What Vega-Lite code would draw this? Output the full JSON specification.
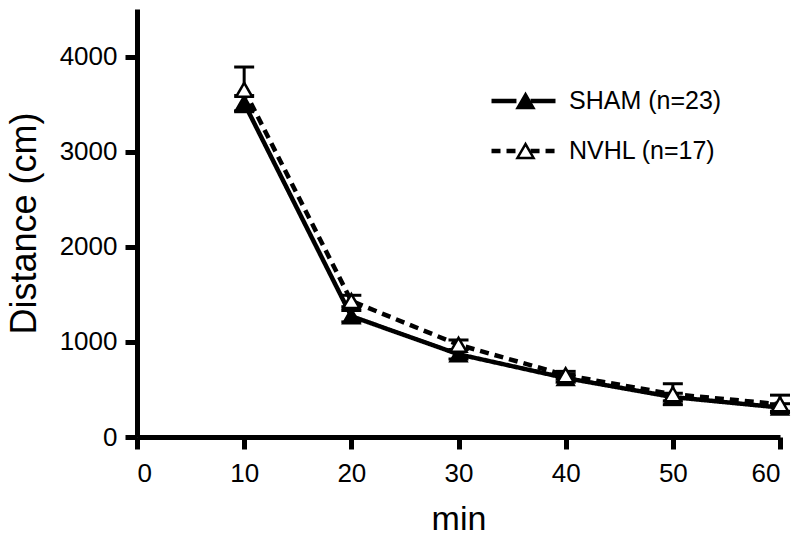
{
  "$schema": "https://vega.github.io/schema/vega-lite/v6.json",
  "width": 643,
  "height": 428,
  "autosize": {"type": "none"},
  "padding": {"left": 137, "top": 9, "right": 20, "bottom": 101},
  "background": "white",
  "config": {
    "view": {"stroke": null},
    "font": "Liberation Sans",
    "axis": {
      "domainColor": "black",
      "domainWidth": 5,
      "tickColor": "black",
      "tickWidth": 5,
      "tickSize": 12,
      "labelFont": "Liberation Sans",
      "labelFontSize": 26,
      "labelColor": "black",
      "titleFont": "Liberation Sans",
      "titleFontWeight": "normal",
      "titleColor": "black",
      "grid": false
    }
  },
  "data": {
    "values": [
      {"min": 10, "group": "SHAM (n=23)", "code": "S", "dist": 3510, "lo": 3430, "hi": 3590},
      {"min": 20, "group": "SHAM (n=23)", "code": "S", "dist": 1270, "lo": 1210, "hi": 1330},
      {"min": 30, "group": "SHAM (n=23)", "code": "S", "dist": 870, "lo": 820, "hi": 920},
      {"min": 40, "group": "SHAM (n=23)", "code": "S", "dist": 620, "lo": 580, "hi": 660},
      {"min": 50, "group": "SHAM (n=23)", "code": "S", "dist": 420, "lo": 380, "hi": 460},
      {"min": 60, "group": "SHAM (n=23)", "code": "S", "dist": 310, "lo": 270, "hi": 350},
      {"min": 10, "group": "NVHL (n=17)", "code": "N", "dist": 3650, "lo": 3420, "hi": 3890},
      {"min": 20, "group": "NVHL (n=17)", "code": "N", "dist": 1430, "lo": 1370, "hi": 1490},
      {"min": 30, "group": "NVHL (n=17)", "code": "N", "dist": 970, "lo": 920, "hi": 1020},
      {"min": 40, "group": "NVHL (n=17)", "code": "N", "dist": 650, "lo": 610, "hi": 690},
      {"min": 50, "group": "NVHL (n=17)", "code": "N", "dist": 450, "lo": 340, "hi": 560},
      {"min": 60, "group": "NVHL (n=17)", "code": "N", "dist": 345, "lo": 255, "hi": 440}
    ]
  },
  "encoding": {
    "x": {
      "field": "min",
      "type": "quantitative",
      "scale": {"domain": [0, 60], "nice": false},
      "axis": {"values": [0, 10, 20, 30, 40, 50, 60], "title": "min", "titleFontSize": 34, "titlePadding": 16, "labelPadding": 11}
    }
  },
  "layer": [
    {
      "mark": {"type": "rule", "strokeWidth": 3, "color": "black", "opacity": 1},
      "encoding": {
        "y": {"field": "lo", "type": "quantitative", "scale": {"domain": [0, 4500], "nice": false}},
        "y2": {"field": "hi"}
      }
    },
    {
      "mark": {"type": "tick", "orient": "horizontal", "size": 20, "thickness": 3, "color": "black", "opacity": 1},
      "encoding": {"y": {"field": "hi", "type": "quantitative"}}
    },
    {
      "mark": {"type": "tick", "orient": "horizontal", "size": 20, "thickness": 3, "color": "black", "opacity": 1},
      "encoding": {"y": {"field": "lo", "type": "quantitative"}}
    },
    {
      "mark": {"type": "line", "color": "black", "strokeWidth": 4.5},
      "encoding": {
        "y": {
          "field": "dist",
          "type": "quantitative",
          "axis": {"values": [0, 1000, 2000, 3000, 4000], "format": "d", "title": "Distance (cm)", "titleFontSize": 36, "titlePadding": 16, "labelPadding": 8}
        },
        "strokeDash": {
          "field": "group",
          "type": "nominal",
          "scale": {"domain": ["SHAM (n=23)", "NVHL (n=17)"], "range": [[1, 0], [9, 6]]},
          "legend": {
            "orient": "none",
            "legendX": 352,
            "legendY": 80,
            "title": null,
            "padding": 0,
            "symbolType": "M-1,0H-0.22M0.22,0H1",
            "symbolSize": 4096,
            "symbolStrokeWidth": 4.5,
            "symbolStrokeColor": "black",
            "symbolFillColor": "transparent",
            "clipHeight": 24,
            "labelFont": "Liberation Sans",
            "labelFontSize": 25,
            "labelColor": "black",
            "labelOffset": 11,
            "rowPadding": 25
          }
        }
      }
    },
    {
      "mark": {"type": "point", "shape": "triangle-up", "size": 260, "stroke": "black", "strokeWidth": 2.5, "opacity": 1, "filled": true},
      "encoding": {
        "y": {"field": "dist", "type": "quantitative"},
        "fill": {
          "field": "code",
          "type": "nominal",
          "scale": {"domain": ["S", "N"], "range": ["black", "white"]},
          "legend": {
            "orient": "none",
            "legendX": 376,
            "legendY": 80,
            "title": null,
            "padding": 0,
            "symbolType": "triangle-up",
            "symbolSize": 260,
            "symbolStrokeColor": "black",
            "symbolStrokeWidth": 2.5,
            "symbolOpacity": 1,
            "clipHeight": 24,
            "labelFontSize": 25,
            "labelOpacity": 0,
            "rowPadding": 25
          }
        }
      }
    }
  ]
}
